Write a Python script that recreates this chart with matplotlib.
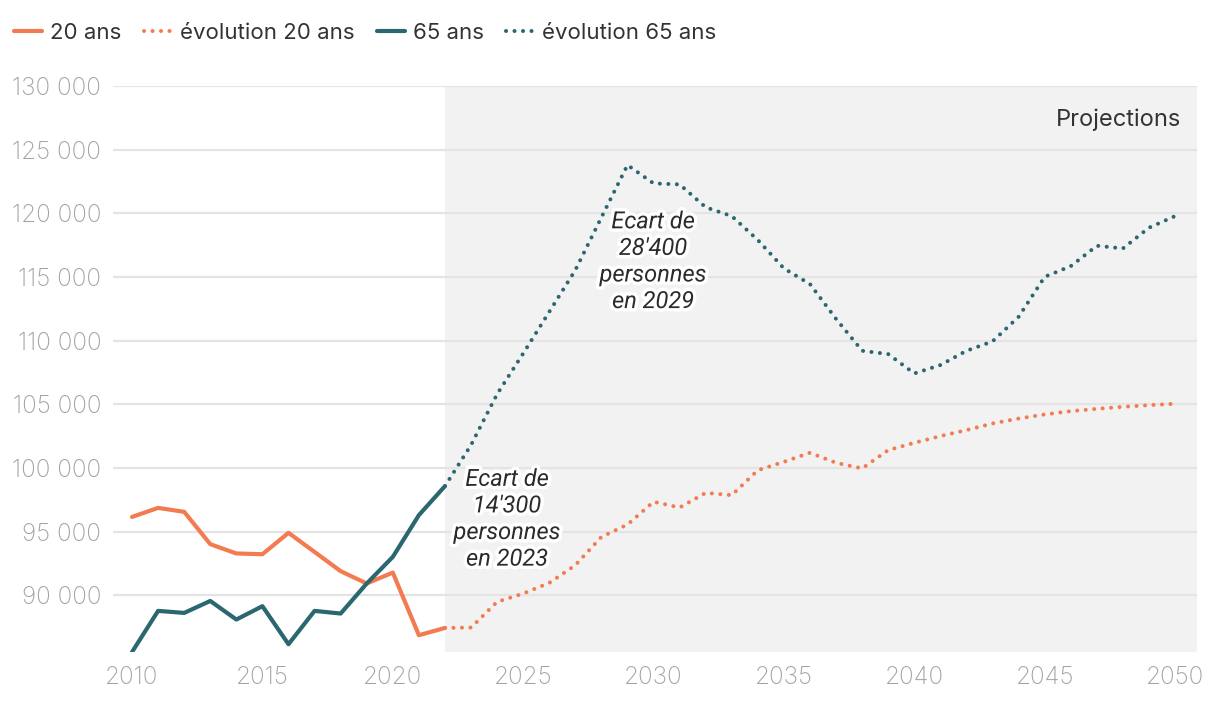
import matplotlib
matplotlib.use("Agg")
import matplotlib.pyplot as plt
import matplotlib.patheffects as pe
from matplotlib.lines import Line2D
from matplotlib.ticker import FuncFormatter

plt.rcParams['font.family'] = ['Inter', 'DejaVu Sans']

# ---- data ----
years_hist = list(range(2010, 2023))
age20_hist = [96150, 96860, 96550, 94010, 93280, 93220, 94900, 93400, 91890, 90920, 91780, 86860, 87430]
age65_hist = [85540, 88770, 88610, 89550, 88090, 89140, 86150, 88770, 88560, 90920, 93010, 96290, 98570]

years_proj = list(range(2022, 2051))
age20_proj = [87430, 87460, 89480, 90130, 90970, 92360, 94580, 95550, 97340, 96890,
              98040, 97860, 99820, 100480, 101190, 100400, 99960, 101400, 101970, 102500,
              102970, 103490, 103880, 104200, 104460, 104640, 104800, 104930, 105040]
age65_proj = [98570, 101800, 105800, 108990, 112260, 115540, 119680, 123790, 122350, 122270,
              120470, 119780, 117900, 115670, 114440, 111700, 109200, 108940, 107420, 108080,
              109200, 109940, 111870, 115010, 115850, 117450, 117240, 118870, 119780]

yticks = [90000, 95000, 100000, 105000, 110000, 115000, 120000, 125000, 130000]
xticks = [2010, 2015, 2020, 2025, 2030, 2035, 2040, 2045, 2050]
labels = ["20 ans", "évolution 20 ans", "65 ans", "évolution 65 ans"]
proj_start = 2022

ORANGE = "#F37B52"
TEAL = "#2B6770"
DOT = (0, (0.01, 2.1))

fig = plt.figure(figsize=(12.2, 7.04), dpi=100)
ax = fig.add_axes([113 / 1220, 1 - 652 / 704, (1197 - 113) / 1220, (652 - 86) / 704])

xmin, xmax = 2009.27, 2050.84
ax.set_xlim(xmin, xmax)
ax.set_ylim(85540, 130000)

ax.axvspan(proj_start, xmax, color="#f2f2f2", zorder=0, lw=0)
ax.set_axisbelow(True)
ax.grid(axis="y", color="#e4e4e4", lw=1.6, zorder=0.5)
ax.grid(axis="x", visible=False)

ax.plot(years_hist, age20_hist, color=ORANGE, lw=3, solid_capstyle="round", solid_joinstyle="round", zorder=3)
ax.plot(years_proj, age20_proj, color=ORANGE, lw=2.9, linestyle=DOT, dash_capstyle="round", zorder=3)
ax.plot(years_hist, age65_hist, color=TEAL, lw=3, solid_capstyle="round", solid_joinstyle="round", zorder=3)
ax.plot(years_proj, age65_proj, color=TEAL, lw=2.9, linestyle=DOT, dash_capstyle="round", zorder=3)

for s in ax.spines.values():
    s.set_visible(False)

ax.set_yticks(yticks)
ax.yaxis.set_major_formatter(FuncFormatter(lambda v, p: f"{int(v):,}".replace(",", " ")))
ax.set_xticks(xticks)
ax.tick_params(axis="both", length=0, labelsize=17.5, labelcolor="#a3a3a3")
ax.tick_params(axis="y", pad=8.5)
ax.tick_params(axis="x", pad=10)
for lab in ax.get_xticklabels() + ax.get_yticklabels():
    lab.set_fontweight("light")

stroke = [pe.withStroke(linewidth=5, foreground="white")]
ax.text(2024.38, 95970, "Ecart de\n14'300\npersonnes\nen 2023", ha="center", va="center",
        fontsize=17, style="italic", family=["Roboto", "DejaVu Sans"], color="#2b2b2b",
        linespacing=1.2, path_effects=stroke, zorder=5)
ax.text(2029.98, 116200, "Ecart de\n28'400\npersonnes\nen 2029", ha="center", va="center",
        fontsize=17, style="italic", family=["Roboto", "DejaVu Sans"], color="#2b2b2b",
        linespacing=1.2, path_effects=stroke, zorder=5)

ax.text(0.985, 0.94, "Projections", transform=ax.transAxes, ha="right", va="center",
        fontsize=17, color="#333333")

handles = [
    Line2D([], [], color=ORANGE, lw=3, solid_capstyle="round"),
    Line2D([], [], color=ORANGE, lw=2.9, linestyle=DOT, dash_capstyle="round"),
    Line2D([], [], color=TEAL, lw=3, solid_capstyle="round"),
    Line2D([], [], color=TEAL, lw=2.9, linestyle=DOT, dash_capstyle="round"),
]
fig.legend(handles, labels, loc="upper left", bbox_to_anchor=(-0.001, 0.99), ncol=4, frameon=False,
           fontsize=16, handlelength=1.26, handletextpad=0.36, columnspacing=1.0,
           labelcolor="#333333", borderaxespad=0.3)

fig.savefig("out.png", dpi=100)
